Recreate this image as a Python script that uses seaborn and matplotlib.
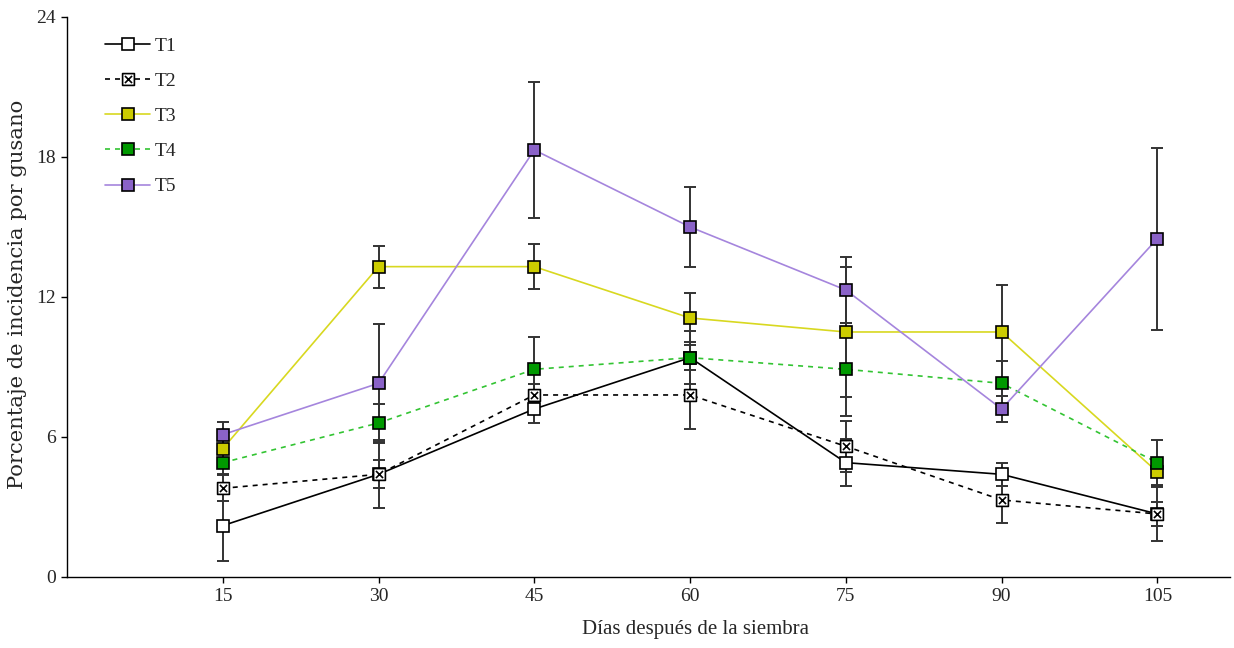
import numpy as np
import pandas as pd
import matplotlib
matplotlib.use("Agg")
import matplotlib.pyplot as plt
from matplotlib.path import Path
from matplotlib.lines import Line2D
import seaborn as sns

# Days after sowing
dias = [15, 30, 45, 60, 75, 90, 105]

# Mean incidence (%) per treatment
t1 = [2.2, 4.4, 7.2, 9.4, 4.9, 4.4, 2.7]
t2 = [3.8, 4.4, 7.8, 7.8, 5.6, 3.3, 2.7]
t3 = [5.5, 13.3, 13.3, 11.1, 10.5, 10.5, 4.5]
t4 = [4.9, 6.6, 8.9, 9.4, 8.9, 8.3, 4.9]
t5 = [6.1, 8.3, 18.3, 15.0, 12.3, 7.2, 14.5]

# Standard errors per treatment
e1 = [1.5, 0.6, 0.6, 1.15, 1.0, 0.5, 1.15]
e2 = [0.55, 1.45, 0.45, 1.45, 1.1, 1.0, 0.5]
e3 = [0.5, 0.9, 0.95, 1.05, 2.8, 2.0, 0.6]
e4 = [0.5, 0.8, 1.4, 0.55, 2.0, 0.95, 0.95]
e5 = [0.55, 2.55, 2.9, 1.7, 1.4, 0.55, 3.9]

labels = ["T1", "T2", "T3", "T4", "T5"]

sns.set_theme(style="ticks")
plt.rcParams["font.family"] = ["Liberation Serif", "DejaVu Serif"]

# square with an X inside for T2
sq_x = Path(
    [(-1, -1), (1, -1), (1, 1), (-1, 1), (-1, -1),
     (-0.6, -0.6), (0.6, 0.6), (-0.6, 0.6), (0.6, -0.6)],
    [Path.MOVETO, Path.LINETO, Path.LINETO, Path.LINETO, Path.CLOSEPOLY,
     Path.MOVETO, Path.LINETO, Path.MOVETO, Path.LINETO],
)

styles = [
    dict(color="black", ls="-", marker="s", mfc="white"),
    dict(color="black", ls=(0, (3, 3)), marker=sq_x, mfc="white"),
    dict(color="#d8d820", ls="-", marker="s", mfc="#cccc00"),
    dict(color="#33c433", ls=(0, (3, 3)), marker="s", mfc="#009900"),
    dict(color="#a585dd", ls="-", marker="s", mfc="#8a62c8"),
]

means = [t1, t2, t3, t4, t5]
errs = [e1, e2, e3, e4, e5]

fig = plt.figure(figsize=(12.34, 6.48), dpi=100)
ax = fig.add_axes([0.0543, 0.1096, 0.9425, 0.8642])

handles = []
for lab, m, e, st in zip(labels, means, errs, styles):
    df = pd.DataFrame({"dias": dias, "val": m})
    ax.errorbar(dias, m, yerr=e, fmt="none", ecolor="#333333",
                elinewidth=1.4, capsize=4.5, capthick=1.4, zorder=3)
    sns.lineplot(data=df, x="dias", y="val", ax=ax, color=st["color"],
                 linestyle=st["ls"], linewidth=1.2, marker=st["marker"],
                 markersize=8.5, markerfacecolor=st["mfc"],
                 markeredgecolor="black", markeredgewidth=1.2,
                 zorder=4, legend=False)
    handles.append(Line2D([], [], color=st["color"], linestyle=st["ls"],
                          linewidth=1.2, marker=st["marker"], markersize=8.5,
                          markerfacecolor=st["mfc"], markeredgecolor="black",
                          markeredgewidth=1.2, label=lab))

ax.set_xlim(0, 112)
ax.set_ylim(0, 24)
ax.set_xticks(dias)
ax.set_yticks([0, 6, 12, 18, 24])
ax.tick_params(axis="both", labelsize=14, length=4, width=1, color="black",
               direction="out", pad=4)
for s in ["top", "right"]:
    ax.spines[s].set_visible(False)
for s in ["left", "bottom"]:
    ax.spines[s].set_color("black")
    ax.spines[s].set_linewidth(1)

ax.set_xlabel("Días después de la siembra", fontsize=15)
ax.xaxis.set_label_coords(0.54, -0.077)
ax.set_ylabel("Porcentaje de incidencia por gusano", fontsize=15.2,
              family=["DejaVu Serif"])
ax.yaxis.set_label_coords(-0.034, 0.505)

leg = ax.legend(handles=handles, loc="upper left", bbox_to_anchor=(0.018, 0.995),
                frameon=False, fontsize=14, handlelength=2.3,
                handletextpad=0.25, labelspacing=0.9)

fig.savefig("out.png", dpi=100, facecolor="white")
